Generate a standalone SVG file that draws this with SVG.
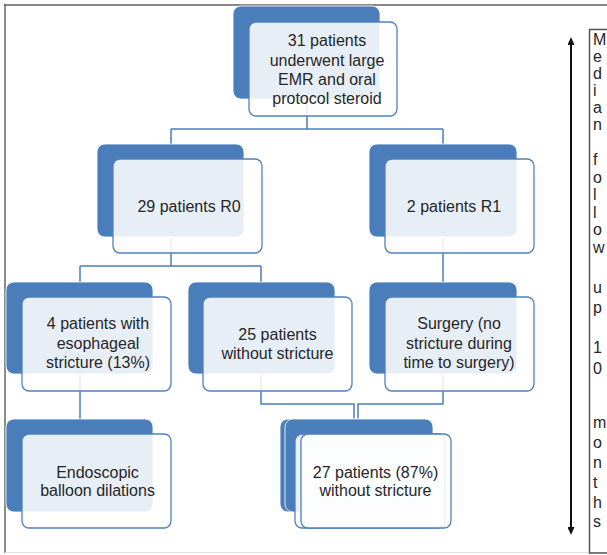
<svg xmlns="http://www.w3.org/2000/svg" width="607" height="555" viewBox="0 0 607 555">
<defs>
<style>
.dk{fill:#4a7ebb;stroke:#fff;stroke-width:0.8}
.fr{fill:#fff;fill-opacity:0.87;stroke:#4f81bd;stroke-width:1.3}
.t{font-family:"Liberation Sans",Arial,sans-serif;font-size:16px;fill:#262626;text-anchor:middle}
.c{fill:none;stroke:#4a7ebb;stroke-width:1.5}
.side{font-family:"Liberation Sans",Arial,sans-serif;font-size:16px;fill:#262626}
</style>
<marker id="ah" viewBox="0 0 8 7" refX="2" refY="3.5" markerWidth="8" markerHeight="7" markerUnits="userSpaceOnUse" orient="auto-start-reverse">
<path d="M0,0 L8,3.5 L0,7 z" fill="#111"/>
</marker>
</defs>
<rect x="0" y="0" width="607" height="555" fill="#fff"/>
<g id="frame">
<line x1="4" y1="5" x2="607" y2="5" stroke="#888" stroke-width="2"/>
<line x1="5" y1="4" x2="5" y2="553" stroke="#666" stroke-width="1.5"/>
<line x1="5" y1="552.5" x2="607" y2="552.5" stroke="#e2e2e2" stroke-width="1"/>
</g>
<g id="connectors">
<path class="c" d="M307,100 V129 M171,129 H443 M171,129 V144 M443,129 V144"/>
<path class="c" d="M171,238 V266 M80,266 H261 M80,266 V282 M261,266 V282"/>
<path class="c" d="M443,238 V282"/>
<path class="c" d="M80,375 V419"/>
<path class="c" d="M261,375 V404 H354 V419"/>
<path class="c" d="M443,375 V404 H358 V419"/>
</g>
<g id="n1">
<rect class="dk" x="233" y="6" width="147" height="93" rx="8"/>
<rect class="fr" x="249" y="22" width="148" height="94" rx="7"/>
<text class="t"><tspan x="327" y="46">31 patients</tspan><tspan x="327" y="65.5">underwent large</tspan><tspan x="327" y="85">EMR and oral</tspan><tspan x="327" y="104">protocol steroid</tspan></text>
</g>
<g id="n2">
<rect class="dk" x="97" y="144" width="147" height="93" rx="8"/>
<rect class="fr" x="113" y="159" width="149" height="94" rx="7"/>
<text class="t" x="189" y="211.5">29 patients R0</text>
</g>
<g id="n3">
<rect class="dk" x="369" y="144" width="148" height="93" rx="8"/>
<rect class="fr" x="385" y="159" width="149" height="94" rx="7"/>
<text class="t" x="454" y="211.5">2 patients R1</text>
</g>
<g id="n4">
<rect class="dk" x="6" y="282" width="147" height="92" rx="8"/>
<rect class="fr" x="22" y="297" width="149" height="94" rx="7"/>
<text class="t"><tspan x="98" y="329">4 patients with</tspan><tspan x="98" y="348.5">esophageal</tspan><tspan x="98" y="368">stricture (13%)</tspan></text>
</g>
<g id="n5">
<rect class="dk" x="188" y="282" width="147" height="92" rx="8"/>
<rect class="fr" x="203" y="297" width="149" height="94" rx="7"/>
<text class="t"><tspan x="277.5" y="339.5">25 patients</tspan><tspan x="277.5" y="358.5">without stricture</tspan></text>
</g>
<g id="n6">
<rect class="dk" x="369" y="282" width="148" height="92" rx="8"/>
<rect class="fr" x="385" y="297" width="149" height="94" rx="7"/>
<text class="t"><tspan x="459" y="329">Surgery (no</tspan><tspan x="459" y="348.5">stricture during</tspan><tspan x="459" y="368">time to surgery)</tspan></text>
</g>
<g id="n7">
<rect class="dk" x="6" y="419" width="147" height="93" rx="8"/>
<rect class="fr" x="22" y="434" width="149" height="94" rx="7"/>
<text class="t"><tspan x="97.5" y="477.5">Endoscopic</tspan><tspan x="97.5" y="496">balloon dilations</tspan></text>
</g>
<g id="n8">
<rect class="dk" x="280" y="419" width="148" height="93" rx="8"/>
<rect class="dk" x="285" y="419" width="148" height="93" rx="8"/>
<rect class="fr" x="295" y="434" width="150" height="94" rx="7"/>
<rect class="fr" x="301" y="434" width="150" height="94" rx="7"/>
<text class="t"><tspan x="375.5" y="477.5">27 patients (87%)</tspan><tspan x="375.5" y="496">without stricture</tspan></text>
</g>
<g id="timeline">
<line x1="571" y1="43" x2="571" y2="529" stroke="#111" stroke-width="2" marker-start="url(#ah)" marker-end="url(#ah)"/>
<path d="M607,29.5 H589.5 V553 H607" fill="none" stroke="#555" stroke-width="1.5"/>
<text class="side"><tspan x="593" y="45">M</tspan><tspan x="593" y="62">e</tspan><tspan x="593" y="79">d</tspan><tspan x="593" y="96">i</tspan><tspan x="593" y="113">a</tspan><tspan x="593" y="130">n</tspan><tspan x="593" y="165">f</tspan><tspan x="593" y="182.5">o</tspan><tspan x="593" y="200">l</tspan><tspan x="593" y="217.5">l</tspan><tspan x="593" y="235">o</tspan><tspan x="593" y="252.5">w</tspan><tspan x="593" y="293">u</tspan><tspan x="593" y="313">p</tspan><tspan x="593" y="353">1</tspan><tspan x="593" y="374">0</tspan><tspan x="593" y="428">m</tspan><tspan x="593" y="448">o</tspan><tspan x="593" y="468">n</tspan><tspan x="593" y="488">t</tspan><tspan x="593" y="508">h</tspan><tspan x="593" y="527">s</tspan></text>
</g>
</svg>
